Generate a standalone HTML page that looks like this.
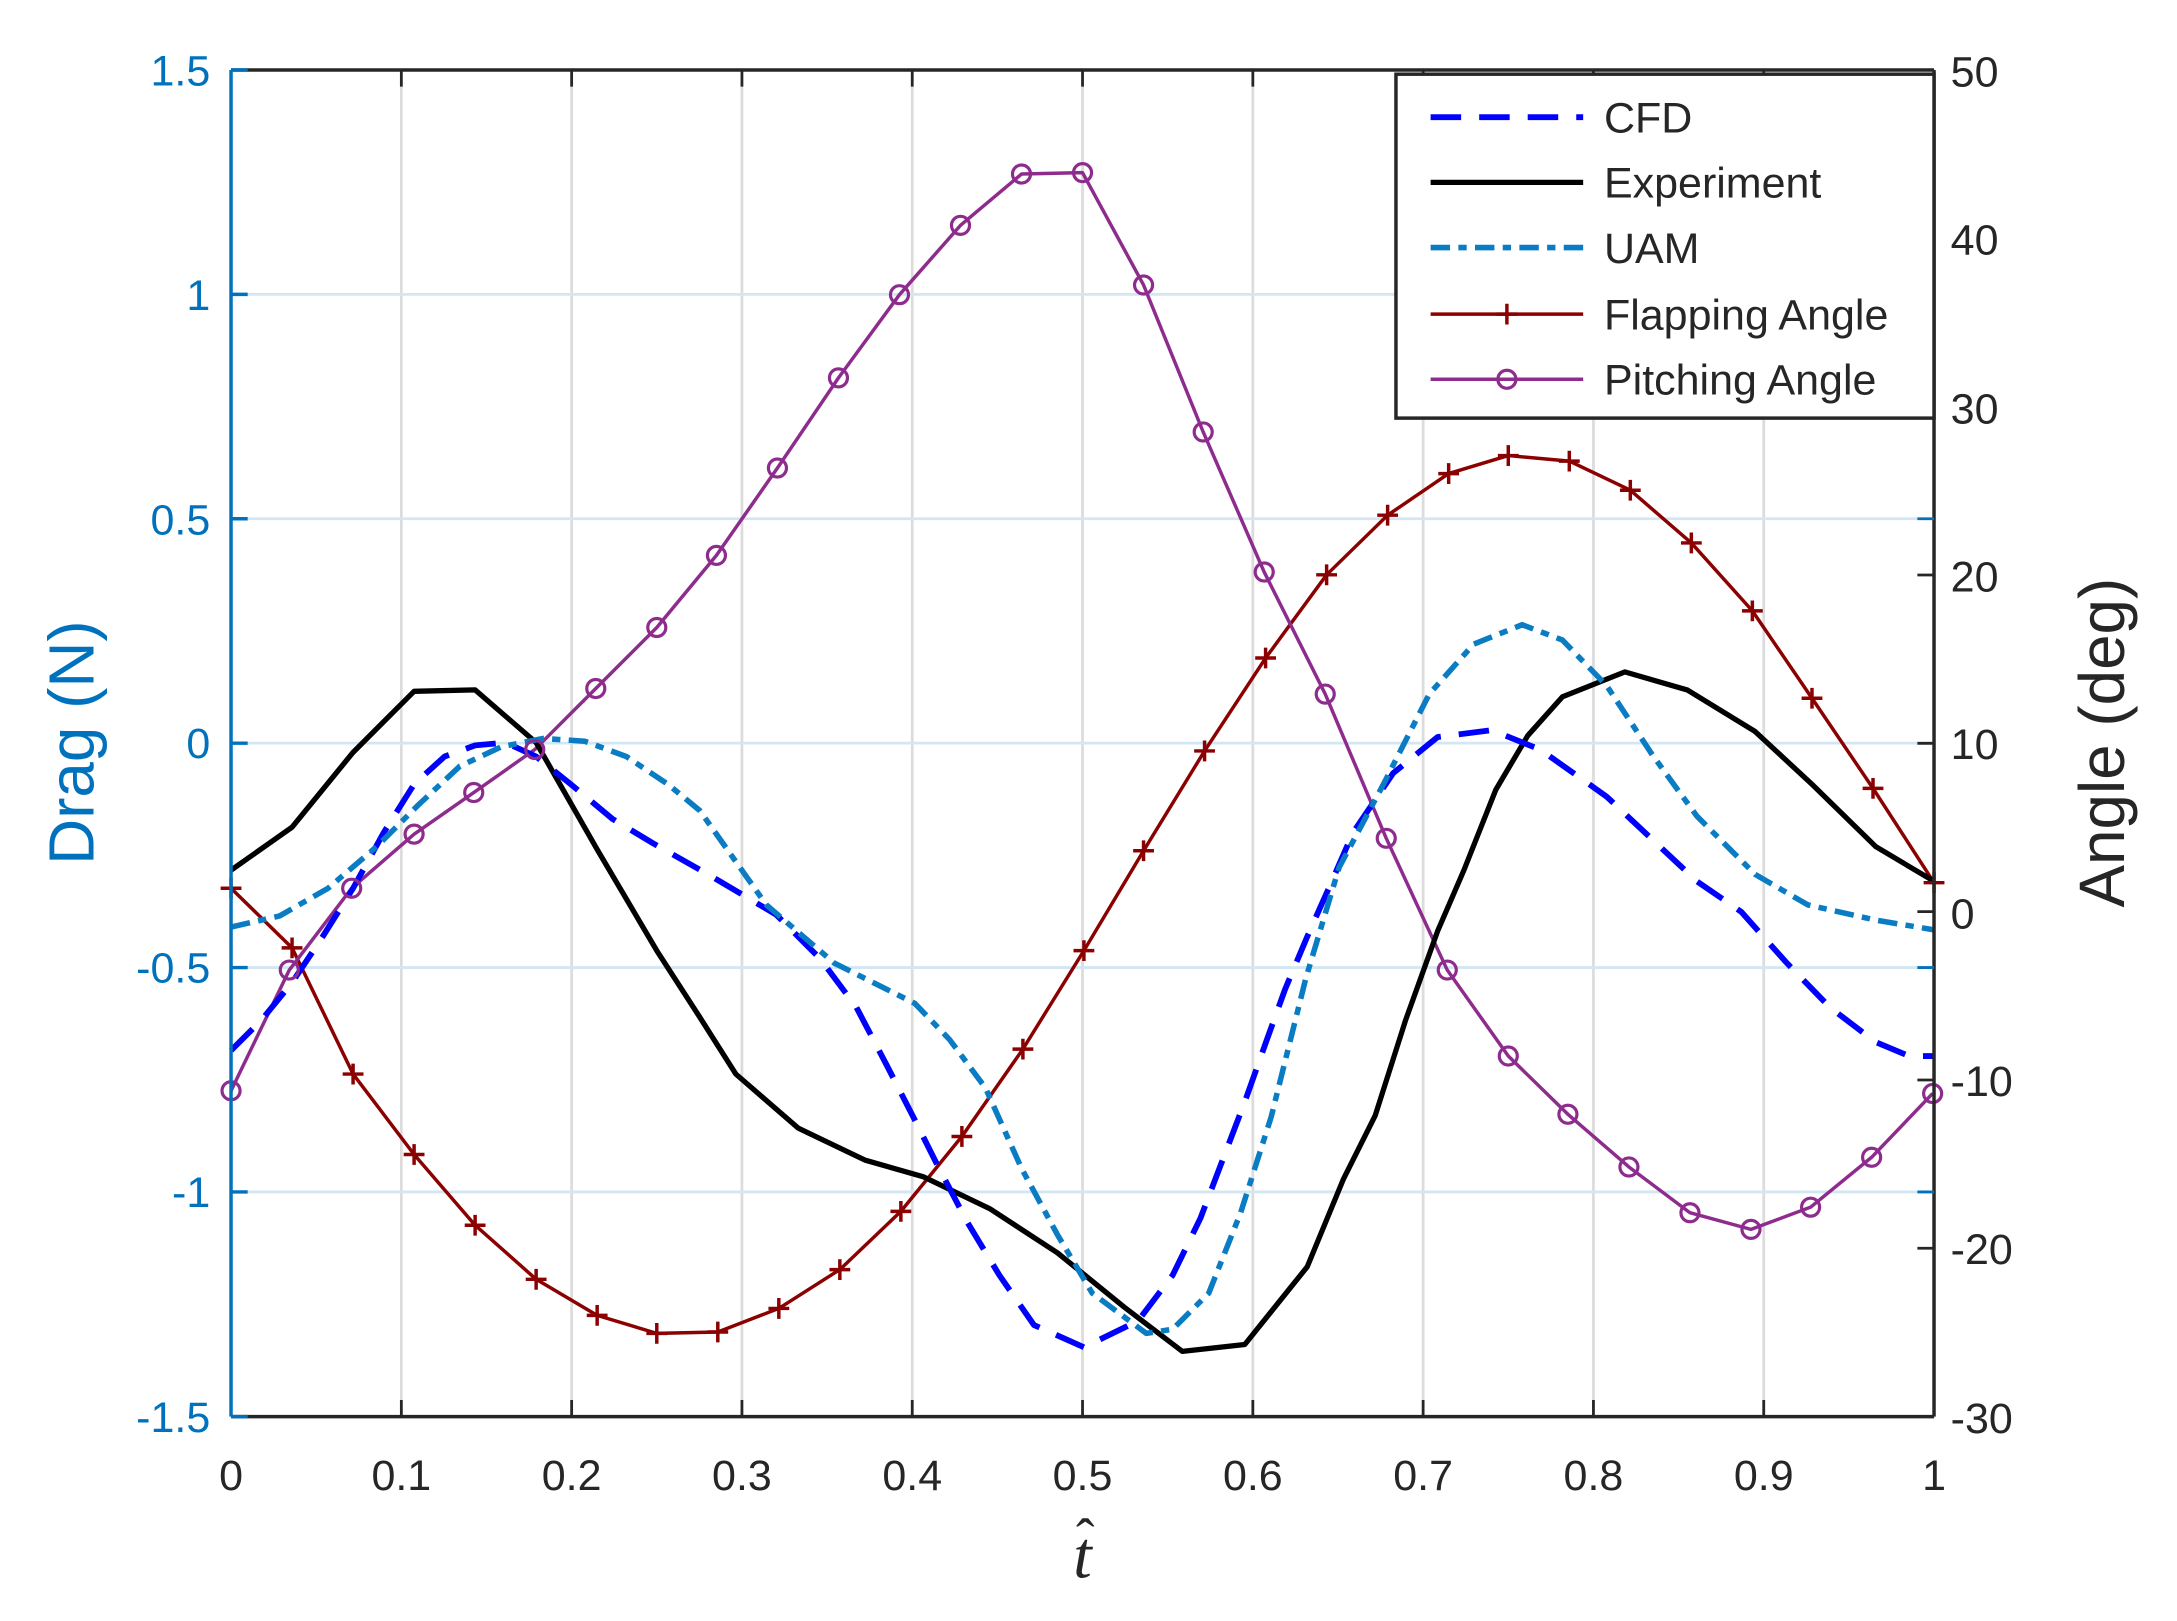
<!DOCTYPE html>
<html><head><meta charset="utf-8"><style>html,body{margin:0;padding:0;background:#fff;}svg{display:block}</style></head>
<body>
<svg width="2177" height="1621" viewBox="-1.6 -0.5 1569.8 1168.9" preserveAspectRatio="none" xmlns="http://www.w3.org/2000/svg" font-family="Liberation Sans, sans-serif">
<defs>
<g id="pl"><path d="M-7.5 0H7.5M0 -7.5V7.5" stroke="#8B0000" stroke-width="2.5"/></g>
<g id="ci"><circle r="6.5" fill="none" stroke="#8E2C8E" stroke-width="2.3"/></g>
</defs>
<rect x="-2" y="-1" width="1572" height="1170" fill="#fff"/>
<g stroke="#dcdcdc" stroke-width="2">
<line x1="287.8" y1="50" x2="287.8" y2="1021"/><line x1="410.6" y1="50" x2="410.6" y2="1021"/><line x1="533.4" y1="50" x2="533.4" y2="1021"/><line x1="656.2" y1="50" x2="656.2" y2="1021"/><line x1="779" y1="50" x2="779" y2="1021"/><line x1="901.8" y1="50" x2="901.8" y2="1021"/><line x1="1024.6" y1="50" x2="1024.6" y2="1021"/><line x1="1147.4" y1="50" x2="1147.4" y2="1021"/><line x1="1270.2" y1="50" x2="1270.2" y2="1021"/>
</g>
<g stroke="#d3e6f3" stroke-width="2">
<line x1="165" y1="211.8" x2="1393" y2="211.8"/><line x1="165" y1="373.6" x2="1393" y2="373.6"/><line x1="165" y1="535.4" x2="1393" y2="535.4"/><line x1="165" y1="697.2" x2="1393" y2="697.2"/><line x1="165" y1="859" x2="1393" y2="859"/>
</g>
<g fill="none" stroke-linejoin="round">
<polyline stroke="#8B0000" stroke-width="2.5" points="165,640 209,683 253,774 297,832 341,883 385,922 429,948 472,961 516,960 560,943 604,915 648,873 692,819 736,756 780,685 823,613 867,541 911,474 955,414 999,371 1043,341 1086,328 1130,332 1174,353 1218,391 1262,440 1305,503 1349,568 1393,636"/>
<polyline stroke="#8E2C8E" stroke-width="2.5" points="165,786 207,699 252,640 297,601 340,571 384,540 428,496 472,452 515,400 559,337 603,272 647,212 691,162 735,125 779,124 823,205 866,311 910,412 954,500 998,604 1042,699 1086,761 1129,803 1173,841 1217,874 1261,886 1304,870 1348,834 1392,788"/>
<polyline stroke="#000" stroke-width="3.8" points="165,627 209,596 253,542 297,498 341,497 385,535 429,612 472,685 503,733 529,774 574,813 622,836 664,848 712,871 761,903 809,942 851,974 896,969 941,913 967,850 990,804 1012,735 1035,671 1054,627 1077,569 1100,530 1125,502 1170,484 1215,497 1264,527 1306,566 1351,610 1393,635"/>
<polyline stroke="#0000FF" stroke-width="4.2" stroke-dasharray="22,13" points="165,757 187,735 209,708 231,675 253,640 275,600 297,565 319,545 341,537 363,535 385,545 410,565 440,590 470,608 509,630 558,659 590,691 616,726 638,768 658,807 674,839 696,881 719,919 744,955 780,971 819,952 844,919 864,878 880,836 896,794 912,749 925,713 941,675 957,639 974,600 1003,557 1035,531 1074,526 1109,540 1157,574 1190,605 1222,635 1254,657 1286,693 1318,726 1351,751 1375,761 1393,761"/>
<polyline stroke="#0A7CC4" stroke-width="4" stroke-dasharray="14,6,6,6" points="165,668 200,660 235,640 270,610 300,580 330,552 360,538 390,532 420,534 450,545 480,565 503,584 551,652 600,694 658,723 683,749 709,784 735,842 761,890 786,932 825,961 844,958 870,932 893,874 915,805 940,705 964,625 996,565 1029,500 1061,464 1096,450 1125,461 1157,494 1190,544 1222,588 1264,630 1302,652 1351,663 1393,670"/>
</g>
<g>
<use href="#pl" x="165" y="640"/><use href="#pl" x="209" y="683"/><use href="#pl" x="253" y="774"/><use href="#pl" x="297" y="832"/><use href="#pl" x="341" y="883"/><use href="#pl" x="385" y="922"/><use href="#pl" x="429" y="948"/><use href="#pl" x="472" y="961"/><use href="#pl" x="516" y="960"/><use href="#pl" x="560" y="943"/><use href="#pl" x="604" y="915"/><use href="#pl" x="648" y="873"/><use href="#pl" x="692" y="819"/><use href="#pl" x="736" y="756"/><use href="#pl" x="780" y="685"/><use href="#pl" x="823" y="613"/><use href="#pl" x="867" y="541"/><use href="#pl" x="911" y="474"/><use href="#pl" x="955" y="414"/><use href="#pl" x="999" y="371"/><use href="#pl" x="1043" y="341"/><use href="#pl" x="1086" y="328"/><use href="#pl" x="1130" y="332"/><use href="#pl" x="1174" y="353"/><use href="#pl" x="1218" y="391"/><use href="#pl" x="1262" y="440"/><use href="#pl" x="1305" y="503"/><use href="#pl" x="1349" y="568"/><use href="#pl" x="1393" y="636"/>
<use href="#ci" x="165" y="786"/><use href="#ci" x="207" y="699"/><use href="#ci" x="252" y="640"/><use href="#ci" x="297" y="601"/><use href="#ci" x="340" y="571"/><use href="#ci" x="384" y="540"/><use href="#ci" x="428" y="496"/><use href="#ci" x="472" y="452"/><use href="#ci" x="515" y="400"/><use href="#ci" x="559" y="337"/><use href="#ci" x="603" y="272"/><use href="#ci" x="647" y="212"/><use href="#ci" x="691" y="162"/><use href="#ci" x="735" y="125"/><use href="#ci" x="779" y="124"/><use href="#ci" x="823" y="205"/><use href="#ci" x="866" y="311"/><use href="#ci" x="910" y="412"/><use href="#ci" x="954" y="500"/><use href="#ci" x="998" y="604"/><use href="#ci" x="1042" y="699"/><use href="#ci" x="1086" y="761"/><use href="#ci" x="1129" y="803"/><use href="#ci" x="1173" y="841"/><use href="#ci" x="1217" y="874"/><use href="#ci" x="1261" y="886"/><use href="#ci" x="1304" y="870"/><use href="#ci" x="1348" y="834"/><use href="#ci" x="1392" y="788"/>
</g>
<g stroke="#262626" stroke-width="2.5" fill="none">
<line x1="165" y1="50" x2="1393" y2="50"/><line x1="165" y1="1021" x2="1393" y2="1021"/><line x1="1393" y1="50" x2="1393" y2="1021"/>
</g>
<g stroke="#262626" stroke-width="2">
<path d="M287.8 50v12M410.6 50v12M533.4 50v12M656.2 50v12M779 50v12M901.8 50v12M1024.6 50v12M1147.4 50v12M1270.2 50v12"/>
<path d="M287.8 1021v-12M410.6 1021v-12M533.4 1021v-12M656.2 1021v-12M779 1021v-12M901.8 1021v-12M1024.6 1021v-12M1147.4 1021v-12M1270.2 1021v-12"/>
<path d="M1393 171.4h-12M1393 292.8h-12M1393 414.1h-12M1393 535.5h-12M1393 656.9h-12M1393 778.3h-12M1393 899.6h-12"/>
</g>
<g stroke="#0072BD" stroke-width="2.5">
<line x1="165" y1="50" x2="165" y2="1021"/>
<path d="M165 50h12M165 211.8h12M165 373.6h12M165 535.4h12M165 697.2h12M165 859h12M165 1021h12"/>
<path d="M1393 211.8h-12M1393 373.6h-12M1393 697.2h-12M1393 859h-12" stroke-width="2"/>
</g>
<g fill="#0072BD" font-size="31" text-anchor="end">
<text x="150" y="61">1.5</text><text x="150" y="223">1</text><text x="150" y="385">0.5</text><text x="150" y="546">0</text><text x="150" y="708">-0.5</text><text x="150" y="870">-1</text><text x="150" y="1032">-1.5</text>
</g>
<g fill="#262626" font-size="31" text-anchor="middle">
<text x="165" y="1074">0</text><text x="287.8" y="1074">0.1</text><text x="410.6" y="1074">0.2</text><text x="533.4" y="1074">0.3</text><text x="656.2" y="1074">0.4</text><text x="779" y="1074">0.5</text><text x="901.8" y="1074">0.6</text><text x="1024.6" y="1074">0.7</text><text x="1147.4" y="1074">0.8</text><text x="1270.2" y="1074">0.9</text><text x="1393" y="1074">1</text>
</g>
<g fill="#262626" font-size="31">
<text x="1405" y="62">50</text><text x="1405" y="183">40</text><text x="1405" y="305">30</text><text x="1405" y="426">20</text><text x="1405" y="547">10</text><text x="1405" y="669">0</text><text x="1405" y="790">-10</text><text x="1405" y="911">-20</text><text x="1405" y="1033">-30</text>
</g>
<text transform="translate(66,535) rotate(-90)" text-anchor="middle" font-size="46" fill="#0072BD">Drag (N)</text>
<text transform="translate(1530,535) rotate(-90)" text-anchor="middle" font-size="46" fill="#262626">Angle (deg)</text>
<text x="779" y="1137" text-anchor="middle" font-size="48" font-style="italic" font-family="Liberation Serif, serif" fill="#262626">t</text>
<text x="781" y="1122" text-anchor="middle" font-size="40" font-family="Liberation Serif, serif" fill="#262626">ˆ</text>
<rect x="1005" y="53" width="388" height="248" fill="#fff" stroke="#262626" stroke-width="2.5"/>
<g fill="none">
<line x1="1030" y1="84" x2="1140" y2="84" stroke="#0000FF" stroke-width="4.2" stroke-dasharray="22,13"/>
<line x1="1030" y1="131" x2="1140" y2="131" stroke="#000" stroke-width="3.8"/>
<line x1="1030" y1="178" x2="1140" y2="178" stroke="#0A7CC4" stroke-width="4" stroke-dasharray="14,6,6,6"/>
<line x1="1030" y1="226" x2="1140" y2="226" stroke="#8B0000" stroke-width="2.5"/>
<line x1="1030" y1="273" x2="1140" y2="273" stroke="#8E2C8E" stroke-width="2.5"/>
</g>
<use href="#pl" x="1085" y="226"/><use href="#ci" x="1085" y="273"/>
<g fill="#262626" font-size="31">
<text x="1155" y="95">CFD</text><text x="1155" y="142">Experiment</text><text x="1155" y="189">UAM</text><text x="1155" y="237">Flapping Angle</text><text x="1155" y="284">Pitching Angle</text>
</g>
</svg>
</body></html>
